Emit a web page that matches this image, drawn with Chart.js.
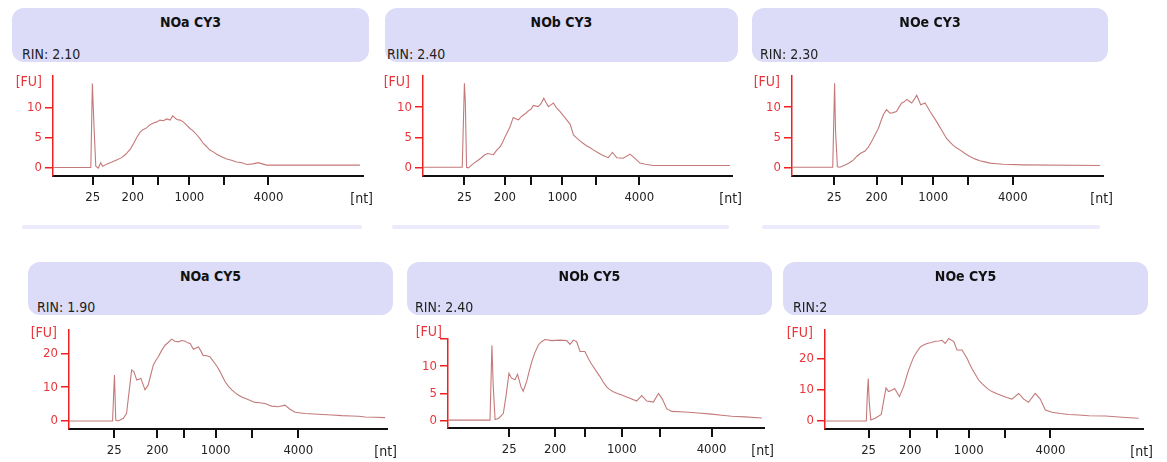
<!DOCTYPE html>
<html>
<head>
<meta charset="utf-8">
<script src="https://cdn.jsdelivr.net/npm/chart.js@4.4.0/dist/chart.umd.min.js"></script>
<style>
  body { margin: 0; background: #fff; width: 1167px; height: 462px; position: relative; overflow: hidden; font-family: 'DejaVu Sans Condensed', 'DejaVu Sans', sans-serif; }
  .head { position: absolute; background: #dcdcf8; border-radius: 12px; }
  .head .t { position: absolute; left: 0; right: 0; top: 6px; text-align: center; font-weight: bold; font-size: 14px; color: #111; }
  .head .rin { position: absolute; bottom: 0; line-height: 16px; font-size: 14px; color: #222; }
  .strip { position: absolute; top: 225px; height: 4px; background: #ebebfb; border-radius: 2px; }
  canvas { position: absolute; }
</style>
</head>
<body>
<script>
// sample names and RIN per panel
const titles = ['NOa CY3', 'NOb CY3', 'NOe CY3', 'NOa CY5', 'NOb CY5', 'NOe CY5'];
const rins = ['RIN: 2.10', 'RIN: 2.40', 'RIN: 2.30', 'RIN: 1.90', 'RIN: 2.40', 'RIN:2'];

// ladder (x) tick positions along the run and their labels
const ladderText = ['25', '200', '', '1000', '', '4000'];
const ladderNoaCy3 = [12.8, 25.7, 34.0, 44.0, 55.3, 69.5];
const ladderNobCy3 = [13.4, 26.5, 35.0, 45.1, 56.0, 70.0];
const ladderNoeCy3 = [13.6, 27.2, 35.5, 45.4, 56.7, 71.0];
const ladderNoaCy5 = [14.2, 27.8, 36.2, 46.1, 57.4, 72.1];
const ladderNobCy5 = [19.4, 33.9, 43.4, 55.0, 67.1, 83.4];
const ladderNoeCy5 = [13.7, 26.8, 35.2, 45.2, 56.5, 70.9];

// FU ticks
const fuTicksSmall = [0, 5, 10];
const fuTicksTop = [0, 5, 10, 15];
const fuTicksLarge = [0, 10, 20];

// traces: [position, FU]
const noaCy3 = [[0,0],[12.2,0],[12.7,14.0],[13.2,7.1],[13.8,0.2],[14.6,-0.1],[15.4,0.8],[16.0,0.2],[17.5,0.6],[19.0,0.9],[20.5,1.25],[22.0,1.6],[23.0,2.0],[23.8,2.4],[25.0,3.1],[26.0,4.0],[27.0,5.0],[28.1,5.9],[29.0,6.3],[30.2,6.6],[31.2,7.1],[32.4,7.4],[33.5,7.6],[34.5,7.9],[35.6,7.8],[36.7,8.1],[37.8,7.9],[38.6,8.6],[39.9,8.0],[41.0,7.9],[42.0,7.6],[43.0,7.1],[44.2,6.5],[45.2,6.1],[46.3,5.5],[47.4,4.8],[48.5,4.0],[49.5,3.5],[50.6,2.9],[51.7,2.6],[52.8,2.2],[54.4,1.8],[56.0,1.4],[57.6,1.2],[59.2,0.9],[61.0,0.8],[62.5,0.5],[64.5,0.6],[66.2,0.8],[67.5,0.6],[68.9,0.4],[99,0.4]];
const nobCy3 = [[0,0],[12.7,0],[13.4,14.0],[13.7,10.8],[14.1,0],[14.7,-0.1],[16.5,0.7],[17.6,1.1],[18.7,1.5],[19.8,2.0],[20.9,2.3],[22.8,2.1],[23.8,2.8],[24.9,3.4],[25.7,4.1],[26.5,5.0],[27.4,5.9],[28.2,6.8],[29.2,8.3],[30.0,8.1],[30.9,7.9],[31.7,8.4],[32.5,8.7],[33.3,9.0],[34.1,9.4],[35.0,9.7],[35.7,10.3],[37.3,10.1],[38.2,10.6],[39.1,11.5],[39.8,10.8],[40.6,10.1],[41.4,10.4],[42.2,10.7],[43.2,9.9],[44.3,9.3],[45.4,8.6],[46.5,7.9],[47.6,7.2],[48.7,5.4],[49.7,4.9],[50.8,4.4],[51.8,4.0],[52.9,3.6],[54.0,3.3],[55.1,2.9],[56.4,2.5],[57.8,2.1],[59.0,1.8],[60.0,1.6],[61.3,2.5],[62.7,1.6],[64.8,1.5],[67.0,2.2],[68.6,1.5],[70.2,0.7],[72.0,0.5],[74.5,0.3],[99.3,0.3]];
const noeCy3 = [[0,0],[13.1,0],[13.7,14.0],[14.0,6.0],[14.6,0.1],[15.4,0],[17.6,0.5],[18.6,0.8],[19.7,1.2],[20.8,1.8],[21.9,2.3],[23.5,2.7],[24.6,3.4],[25.6,4.3],[26.7,5.4],[27.8,6.5],[28.6,7.7],[29.4,8.8],[30.4,9.6],[31.5,9.0],[32.5,9.1],[33.6,9.3],[34.5,10.1],[35.3,10.7],[36.1,10.9],[36.9,11.3],[37.7,11.0],[38.5,10.7],[39.3,11.3],[40.1,12.0],[41.4,10.4],[42.8,10.7],[43.6,10.0],[44.4,9.3],[45.5,8.4],[46.5,7.6],[47.3,6.9],[48.1,6.2],[48.9,5.5],[49.7,4.8],[50.8,4.2],[51.9,3.6],[53.0,3.2],[54.0,2.9],[55.6,2.3],[57.2,1.8],[58.8,1.4],[60.4,1.1],[62.0,0.9],[63.7,0.7],[65.8,0.6],[67.9,0.5],[74.4,0.4],[99.0,0.3]];
const noaCy5 = [[0,0],[13.7,0],[14.3,13.6],[14.7,0.3],[15.5,0],[17.1,0.8],[18.1,2.3],[18.9,8.7],[19.7,15.1],[20.4,14.6],[21.3,12.1],[22.6,12.6],[23.9,9.2],[24.9,10.6],[25.7,13.6],[26.5,16.5],[27.3,17.9],[28.1,19.0],[29.1,20.8],[30.2,22.4],[31.2,23.2],[32.3,24.2],[33.3,23.6],[34.4,23.4],[35.4,23.8],[36.5,23.6],[37.3,23.1],[38.1,22.9],[39.1,21.2],[40.7,21.9],[41.4,20.8],[42.2,19.4],[43.3,19.3],[44.3,19.0],[45.1,18.0],[45.9,17.0],[46.7,15.9],[47.5,14.6],[48.3,13.1],[49.1,11.6],[50.1,10.3],[51.2,9.2],[52.2,8.4],[53.2,7.7],[54.5,7.0],[55.9,6.5],[57.2,6.0],[58.5,5.5],[60.0,5.4],[61.6,5.2],[62.6,4.8],[63.7,4.4],[65.8,4.2],[67.9,4.7],[69.5,3.5],[71.1,2.6],[74.2,2.2],[78.4,2.0],[82.6,1.8],[85.8,1.6],[88.9,1.5],[91.0,1.4],[93.1,1.2],[96.2,1.1],[99.4,1.0]];
const nobCy5 = [[0,0.1],[13.3,0.1],[13.9,13.8],[14.3,6.6],[14.9,0.2],[16.0,0.4],[17.5,1.3],[18.4,4.7],[19.3,8.7],[20.1,7.8],[21.2,7.5],[22.0,8.5],[23.1,6.2],[23.8,5.4],[24.9,7.2],[25.7,9.1],[26.5,10.8],[27.5,12.5],[28.6,13.9],[29.6,14.5],[30.7,14.9],[32.8,14.7],[35.4,14.8],[37.6,14.7],[38.6,14.0],[39.7,14.8],[40.7,14.5],[41.8,12.7],[43.3,12.7],[44.4,11.4],[45.2,10.6],[46.0,9.9],[47.0,9.0],[48.1,8.1],[49.1,7.1],[50.2,6.2],[51.2,5.7],[52.3,5.3],[53.6,5.0],[55.0,4.7],[56.3,4.4],[57.6,4.1],[59.7,3.6],[61.3,4.6],[62.9,3.6],[65.0,3.4],[66.6,5.0],[67.8,4.0],[69.2,2.2],[70.8,1.7],[75.0,1.6],[79.2,1.4],[83.4,1.2],[86.6,1.0],[89.8,0.8],[94.0,0.7],[99.3,0.5]];
const noeCy5 = [[0,0],[13.0,0],[13.3,8.3],[13.6,13.6],[13.9,6.2],[14.4,0.3],[15.8,0.9],[17.7,2.1],[18.4,6.2],[19.2,10.6],[20.0,9.4],[21.1,9.9],[21.9,10.4],[23.4,7.8],[24.7,10.9],[25.4,13.3],[26.1,15.7],[27.0,18.2],[27.9,20.5],[29.0,22.3],[30.0,23.7],[31.0,24.3],[32.1,24.8],[33.4,25.1],[34.7,25.5],[35.8,25.6],[36.8,25.8],[37.8,24.8],[38.9,26.4],[40.5,25.4],[41.5,22.7],[43.1,22.7],[44.7,20.0],[45.4,18.4],[46.2,16.8],[47.2,15.0],[48.3,13.1],[49.3,12.0],[50.4,11.0],[51.4,10.1],[52.5,9.4],[54.1,8.7],[55.7,8.1],[57.2,7.5],[58.8,7.0],[60.9,8.8],[62.5,7.0],[64.0,6.0],[66.1,8.8],[67.7,7.0],[69.3,3.5],[71.4,2.8],[74.0,2.4],[76.6,2.1],[79.8,1.9],[83.0,1.7],[88.2,1.6],[93.4,1.2],[98.6,0.9]];

const traces = [noaCy3, nobCy3, noeCy3, noaCy5, nobCy5, noeCy5];
const ladders = [ladderNoaCy3, ladderNobCy3, ladderNoeCy3, ladderNoaCy5, ladderNobCy5, ladderNoeCy5];
const fuTicks = [fuTicksSmall, fuTicksSmall, fuTicksSmall, fuTicksLarge, fuTicksTop, fuTicksLarge];

// page layout: header box [l, t, r, b], axis box [left, top, right, bottom], FU range, [FU] label offset
const layout = [
  { head: [12, 8, 369, 62], rinX: 10, axis: [53, 76, 363, 176], y: [-1.42, 15.25], fu: [-11, 6] },
  { head: [385, 8, 738, 62], rinX: 2, axis: [423, 76, 732, 176], y: [-1.45, 15.2], fu: [-13, 6] },
  { head: [752, 8, 1108, 62], rinX: 8, axis: [792, 76, 1103, 176], y: [-1.45, 15.2], fu: [-12, 6] },
  { head: [28, 262, 393, 315], rinX: 9, axis: [69, 330, 387, 429], y: [-2.36, 26.9], fu: [-12, 3] },
  { head: [407, 262, 772, 315], rinX: 8, axis: [448, 339, 764, 428], y: [-1.35, 15.0], fu: [-6, -7] },
  { head: [783, 262, 1148, 315], rinX: 10, axis: [825, 330, 1143, 429], y: [-2.56, 29.1], fu: [-12, 3] }
];

const RED = '#e8353a';
const AXIS_RED = '#f02020';
const TRACE = '#c47a7a';
const FONT = '"DejaVu Sans Condensed", "DejaVu Sans", sans-serif';

// faint bars left over from the row above
[[22, 362], [392, 729], [762, 1100]].forEach(([a, b]) => {
  const d = document.createElement('div');
  d.className = 'strip';
  d.style.left = a + 'px';
  d.style.width = (b - a) + 'px';
  document.body.appendChild(d);
});

const unitLabels = {
  id: 'unitLabels',
  afterDraw(chart, args, opts) {
    const { ctx, chartArea } = chart;
    ctx.save();
    ctx.font = '14px ' + FONT;
    ctx.textBaseline = 'middle';
    ctx.textAlign = 'right';
    ctx.fillStyle = RED;
    ctx.fillText('[FU]', chartArea.left + opts.fu[0], chartArea.top + opts.fu[1]);
    ctx.fillStyle = '#222';
    ctx.fillText('[nt]', chartArea.right + 10, chartArea.bottom + 23);
    ctx.restore();
  }
};

const YW = 60, XH = 36, PT = 20, PR = 22;

layout.forEach((p, i) => {
  const h = document.createElement('div');
  h.className = 'head';
  h.style.left = p.head[0] + 'px';
  h.style.top = p.head[1] + 'px';
  h.style.width = (p.head[2] - p.head[0]) + 'px';
  h.style.height = (p.head[3] - p.head[1]) + 'px';
  h.innerHTML = '<div class="t">' + titles[i] + '</div><div class="rin" style="left:' + p.rinX + 'px">' + rins[i] + '</div>';
  document.body.appendChild(h);

  const [al, at, ar, ab] = p.axis;
  const cv = document.createElement('canvas');
  const left = al - YW, top = at - PT;
  cv.width = ar + PR - left;
  cv.height = ab + XH - top;
  cv.style.left = left + 'px';
  cv.style.top = top + 'px';
  document.body.appendChild(cv);

  const yt = fuTicks[i];
  new Chart(cv, {
    type: 'line',
    data: {
      datasets: [{
        data: traces[i].map(d => ({ x: d[0], y: d[1] })),
        borderColor: TRACE,
        borderWidth: 1.1,
        pointRadius: 0,
        tension: 0
      }]
    },
    options: {
      responsive: false,
      animation: false,
      events: [],
      layout: { padding: { top: PT, right: PR, left: 0, bottom: 0 } },
      plugins: {
        legend: { display: false },
        tooltip: { enabled: false },
        unitLabels: { fu: p.fu }
      },
      scales: {
        x: {
          type: 'linear',
          min: 0,
          max: 100,
          afterFit: s => { s.height = XH; },
          afterBuildTicks: s => { s.ticks = ladders[i].map(v => ({ value: v })); },
          ticks: {
            autoSkip: false,
            maxRotation: 0,
            padding: 5,
            color: '#222',
            font: { family: FONT, size: 13 },
            callback: (v, k) => ladderText[k]
          },
          grid: { drawOnChartArea: false, tickLength: 9, color: '#111', lineWidth: 2 },
          border: { color: '#111', width: 2 }
        },
        y: {
          min: p.y[0],
          max: p.y[1],
          afterFit: s => { s.width = YW; },
          afterBuildTicks: s => { s.ticks = yt.map(v => ({ value: v })); },
          ticks: {
            padding: 3,
            color: RED,
            font: { family: FONT, size: 13 },
            callback: (v, k) => (i === 4 && k === yt.length - 1) ? '' : String(v)
          },
          grid: { drawOnChartArea: false, tickLength: 8, color: AXIS_RED, lineWidth: 1.5 },
          border: { color: AXIS_RED, width: 1.5 }
        }
      }
    },
    plugins: [unitLabels]
  });
});
</script>
</body>
</html>
